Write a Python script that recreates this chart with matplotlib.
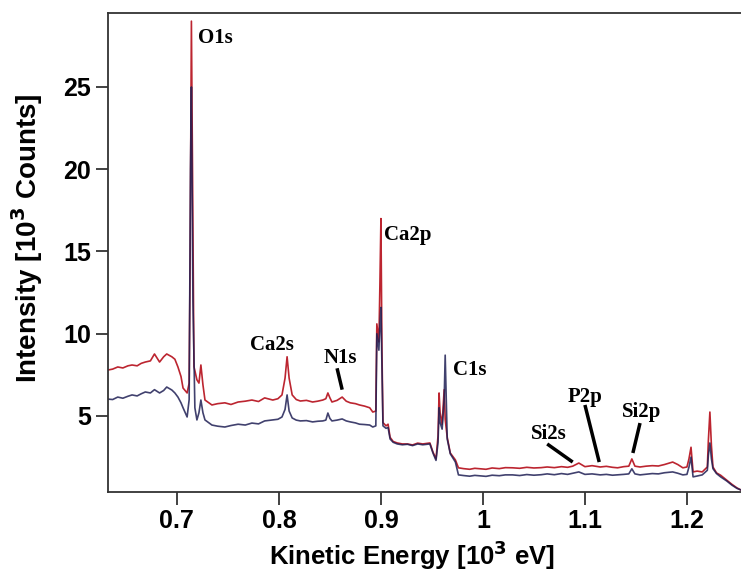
import matplotlib
matplotlib.use("Agg")
import matplotlib.pyplot as plt

# kinetic energy [10^3 eV] / intensity [10^3 counts], read point by point
energy_red = [
    0.632, 0.637, 0.642, 0.647, 0.652, 0.656, 0.661, 0.665, 0.669, 0.674,
    0.678, 0.683, 0.687, 0.690, 0.695, 0.698, 0.701, 0.704, 0.706, 0.710,
    0.712, 0.713, 0.7142, 0.7157, 0.7167, 0.7196, 0.7216, 0.7235, 0.7255, 0.7275,
    0.7343, 0.740, 0.747, 0.753, 0.760, 0.767, 0.7735, 0.780, 0.786, 0.794,
    0.799, 0.803, 0.806, 0.808, 0.810, 0.813, 0.817, 0.821, 0.827, 0.833,
    0.838, 0.843, 0.846, 0.848, 0.850, 0.852, 0.857, 0.862, 0.866, 0.870,
    0.875, 0.879, 0.884, 0.889, 0.892, 0.895, 0.896, 0.898, 0.899, 0.900,
    0.901, 0.902, 0.905, 0.907, 0.909, 0.912, 0.916, 0.921, 0.926, 0.931,
    0.936, 0.941, 0.948, 0.951, 0.954, 0.956, 0.957, 0.958, 0.960, 0.962,
    0.963, 0.965, 0.968, 0.973, 0.976, 0.981, 0.987, 0.992, 0.997, 1.003,
    1.009, 1.016, 1.022, 1.029, 1.036, 1.043, 1.050, 1.057, 1.063, 1.070,
    1.077, 1.083, 1.088, 1.094, 1.100, 1.107, 1.115, 1.121, 1.127, 1.132,
    1.138, 1.143, 1.146, 1.149, 1.154, 1.160, 1.166, 1.172, 1.178, 1.186,
    1.191, 1.196, 1.200, 1.202, 1.204, 1.206, 1.210, 1.215, 1.220, 1.221,
    1.2225, 1.224, 1.2255, 1.229, 1.233, 1.239, 1.244, 1.249, 1.253,
]
intensity_red = [
    7.79, 7.85, 7.98, 7.92, 8.05, 8.10, 8.05, 8.20, 8.28, 8.35,
    8.77, 8.28, 8.60, 8.77, 8.60, 8.45, 7.98, 7.40, 6.70, 6.40,
    7.00, 15.0, 29.0, 16.0, 8.00, 7.20, 7.00, 8.10, 6.90, 5.97,
    5.67, 5.75, 5.80, 5.70, 5.85, 5.90, 5.97, 5.88, 6.10, 5.97,
    6.05, 6.28, 7.30, 8.60, 7.30, 6.28, 6.00, 5.91, 5.95, 5.85,
    5.90, 5.97, 6.05, 6.40, 6.10, 5.85, 5.95, 6.15, 5.90, 5.80,
    5.75, 5.67, 5.60, 5.50, 5.24, 5.30, 10.6, 9.50, 13.0, 17.0,
    9.00, 4.60, 4.40, 4.50, 3.70, 3.45, 3.36, 3.30, 3.30, 3.24,
    3.35, 3.30, 3.36, 2.81, 2.39, 3.80, 6.40, 5.20, 4.50, 6.60,
    4.80, 3.70, 2.75, 2.33, 1.85, 1.80, 1.76, 1.82, 1.79, 1.76,
    1.84, 1.80, 1.86, 1.85, 1.82, 1.88, 1.84, 1.86, 1.90, 1.86,
    1.92, 1.88, 1.95, 2.14, 1.92, 1.98, 1.90, 1.94, 1.88, 1.85,
    1.92, 1.95, 2.39, 1.95, 1.90, 1.95, 1.98, 1.96, 2.05, 2.20,
    2.05, 1.85, 1.90, 2.40, 3.10, 1.60, 1.65, 1.60, 1.90, 3.50,
    5.24, 3.20, 1.90, 1.54, 1.40, 1.10, 0.85, 0.63, 0.50,
]

energy_navy = [
    0.632, 0.637, 0.642, 0.647, 0.652, 0.656, 0.661, 0.665, 0.669, 0.674,
    0.678, 0.683, 0.687, 0.690, 0.695, 0.698, 0.701, 0.704, 0.706, 0.710,
    0.712, 0.7133, 0.7142, 0.7157, 0.7176, 0.7196, 0.7216, 0.7235, 0.7255, 0.7275,
    0.7343, 0.740, 0.747, 0.753, 0.760, 0.767, 0.7735, 0.780, 0.786, 0.794,
    0.799, 0.803, 0.806, 0.808, 0.810, 0.813, 0.817, 0.821, 0.827, 0.833,
    0.838, 0.843, 0.846, 0.848, 0.850, 0.852, 0.857, 0.862, 0.866, 0.870,
    0.875, 0.879, 0.884, 0.889, 0.892, 0.895, 0.896, 0.898, 0.899, 0.900,
    0.901, 0.902, 0.905, 0.907, 0.909, 0.912, 0.916, 0.921, 0.926, 0.931,
    0.936, 0.941, 0.948, 0.951, 0.954, 0.956, 0.957, 0.958, 0.960, 0.962,
    0.963, 0.965, 0.968, 0.973, 0.976, 0.981, 0.987, 0.992, 0.997, 1.003,
    1.009, 1.016, 1.022, 1.029, 1.036, 1.043, 1.050, 1.057, 1.063, 1.070,
    1.077, 1.083, 1.088, 1.094, 1.100, 1.107, 1.115, 1.121, 1.127, 1.132,
    1.138, 1.143, 1.146, 1.149, 1.154, 1.160, 1.166, 1.172, 1.178, 1.186,
    1.191, 1.196, 1.200, 1.202, 1.204, 1.206, 1.210, 1.215, 1.220, 1.221,
    1.2225, 1.224, 1.2255, 1.229, 1.233, 1.239, 1.244, 1.249, 1.253,
]
intensity_navy = [
    6.03, 6.00, 6.15, 6.08, 6.20, 6.28, 6.22, 6.35, 6.46, 6.40,
    6.60, 6.40, 6.55, 6.76, 6.58, 6.40, 6.15, 5.80, 5.50, 4.94,
    6.00, 20.0, 25.0, 12.0, 5.50, 4.76, 5.20, 5.97, 5.20, 4.76,
    4.45, 4.38, 4.33, 4.42, 4.50, 4.45, 4.57, 4.52, 4.70, 4.76,
    4.80, 4.94, 5.40, 6.28, 5.30, 4.88, 4.75, 4.70, 4.72, 4.64,
    4.68, 4.70, 4.75, 5.18, 4.85, 4.70, 4.75, 4.82, 4.70, 4.64,
    4.58, 4.50, 4.48, 4.45, 4.33, 4.40, 10.0, 9.00, 10.5, 11.6,
    8.00, 4.40, 4.25, 4.30, 3.60, 3.40, 3.30, 3.25, 3.28, 3.20,
    3.30, 3.25, 3.30, 2.75, 2.30, 3.40, 5.50, 4.60, 4.20, 6.00,
    8.70, 3.60, 2.70, 2.20, 1.42, 1.38, 1.34, 1.39, 1.36, 1.33,
    1.40, 1.37, 1.42, 1.42, 1.38, 1.44, 1.40, 1.43, 1.48, 1.43,
    1.50, 1.45, 1.52, 1.60, 1.45, 1.48, 1.42, 1.45, 1.40, 1.42,
    1.45, 1.48, 1.79, 1.48, 1.42, 1.46, 1.50, 1.48, 1.55, 1.60,
    1.52, 1.42, 1.45, 1.90, 2.50, 1.30, 1.35, 1.42, 1.70, 2.60,
    3.36, 2.40, 1.80, 1.50, 1.30, 1.05, 0.80, 0.60, 0.50,
]

# peak labels: (text, label x, label y) plus leader lines for the small ones
peak_names = ["O1s", "Ca2s", "Ca2p", "C1s", "N1s", "Si2s", "P2p", "Si2p"]
peak_label_x = [0.7205, 0.793, 0.926, 0.987, 0.860, 1.065, 1.100, 1.156]
peak_label_y = [28.0, 9.3, 16.0, 7.8, 8.5, 3.9, 6.15, 5.25]
leaders = {
    "N1s": ((0.857, 7.9), (0.862, 6.6)),
    "Si2s": ((1.063, 3.3), (1.088, 2.2)),
    "P2p": ((1.100, 5.67), (1.114, 2.2)),
    "Si2p": ((1.154, 4.57), (1.147, 2.75)),
}

RED = "#bc2530"
NAVY = "#202055"

fig = plt.figure(figsize=(7.41, 5.81), dpi=100)
ax = fig.add_axes([0.1457, 0.1532, 0.8543, 0.8245])

ax.plot(energy_red, intensity_red, color=RED, lw=1.2)
ax.plot(energy_navy, intensity_navy, color=NAVY, lw=1.2, alpha=0.85)

for name, lx, ly in zip(peak_names, peak_label_x, peak_label_y):
    ha = "left" if name == "O1s" else "center"
    ax.text(lx, ly, name, ha=ha, va="center", fontsize=15,
            fontweight="bold", family="Liberation Serif", color="black")

for name, (p0, p1) in leaders.items():
    ax.plot([p0[0], p1[0]], [p0[1], p1[1]], color="black", lw=2.5,
            solid_capstyle="butt")

ax.set_xlim(0.6324, 1.253)
ax.set_ylim(0.38, 29.5)
ax.set_xticks([0.7, 0.8, 0.9, 1.0, 1.1, 1.2])
ax.set_xticklabels(["0.7", "0.8", "0.9", "1", "1.1", "1.2"])
ax.set_yticks([5, 10, 15, 20, 25])

for side in ["left", "bottom", "top"]:
    ax.spines[side].set_color("#333333")
    ax.spines[side].set_linewidth(1.3)
ax.spines["right"].set_visible(False)

ax.tick_params(direction="out", length=9, width=1.3, color="#333333",
               labelsize=18, pad=3)
for lab in ax.get_xticklabels() + ax.get_yticklabels():
    lab.set_fontweight("bold")
    lab.set_family("Liberation Sans")

ax.set_xlabel("Kinetic Energy [10$^\\mathbf{3}$ eV]", fontsize=18.5,
              fontweight="bold", family="Liberation Sans")
ax.set_ylabel("Intensity [10$^\\mathbf{3}$ Counts]", fontsize=20,
              fontweight="bold", family="Liberation Sans")
ax.xaxis.set_label_coords(0.48, -0.098)
ax.yaxis.set_label_coords(-0.1, 0.53)

fig.savefig("out.png", dpi=100, facecolor="white")
